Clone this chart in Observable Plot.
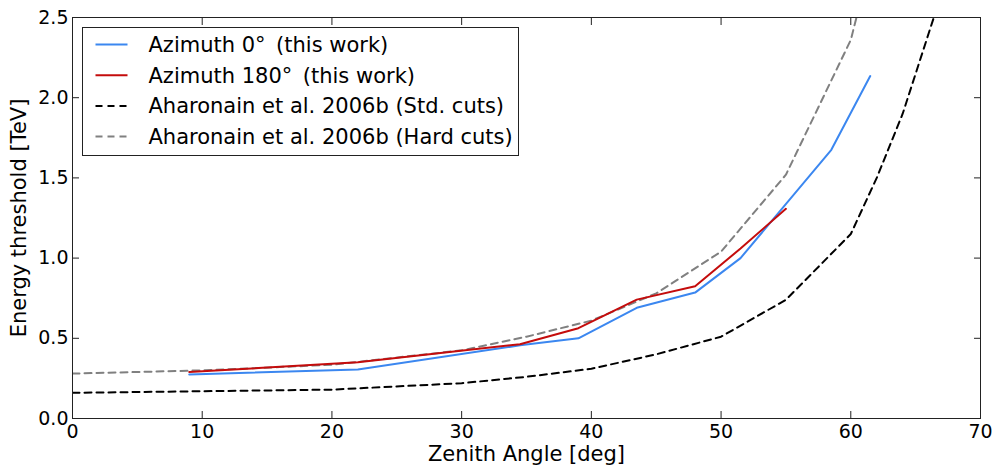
<!DOCTYPE html>
<html>
<head>
<meta charset="utf-8">
<script src="https://cdn.jsdelivr.net/npm/d3@7"></script>
<script src="https://cdn.jsdelivr.net/npm/@observablehq/plot@0.6"></script>
<style>
  html, body { margin: 0; padding: 0; background: #fff; }
  #wrap { position: relative; width: 995px; height: 465px; font-family: "DejaVu Sans", sans-serif; }
  #wrap svg [aria-label="x-axis label"] text,
  #wrap svg [aria-label="y-axis label"] text { font-size: 21px; }
  #legend { position: absolute; left: 82px; top: 27px; width: 437px; height: 129px; box-sizing: border-box;
            border: 1px solid #222; background: #fff; }
</style>
</head>
<body>
<div id="wrap"></div>
<script>
// ---- data ----
const zenithAz0   = [9, 22, 34.5, 39, 43.5, 48, 51.5, 58.5, 61.5];
const thresholdAz0 = [0.275, 0.305, 0.456, 0.50, 0.69, 0.785, 1.0, 1.675, 2.135];

const zenithAz180   = [9, 22, 34.5, 39, 43.5, 48, 51.5, 55];
const thresholdAz180 = [0.29, 0.35, 0.463, 0.563, 0.741, 0.824, 1.06, 1.307];

const zenithStd   = [0, 10, 20, 30, 35, 40, 45, 50, 55, 60, 62, 64, 65, 66, 67];
const thresholdStd = [0.16, 0.17, 0.18, 0.22, 0.26, 0.31, 0.40, 0.51, 0.74, 1.15, 1.50, 1.90, 2.15, 2.40, 2.65];

const zenithHard   = [0, 10, 20, 30, 35, 40, 45, 50, 55, 60, 62];
const thresholdHard = [0.28, 0.30, 0.335, 0.425, 0.51, 0.61, 0.78, 1.04, 1.52, 2.36, 3.0];

const xTicks = [0, 10, 20, 30, 40, 50, 60, 70];
const yTicks = [0.0, 0.5, 1.0, 1.5, 2.0, 2.5];

const seriesNames = [
  "Azimuth 0°\u2002(this work)",
  "Azimuth 180°\u2002(this work)",
  "Aharonain et al. 2006b (Std. cuts)",
  "Aharonain et al. 2006b (Hard cuts)"
];
const seriesColors = ["#3b87f0", "#c40c0c", "#000000", "#808080"];
const seriesDash = [null, null, "7,5", "7,5"];

const toRows = (xs, ys) => xs.map((x, i) => ({x, y: ys[i]}));
const rows = [
  toRows(zenithAz0, thresholdAz0),
  toRows(zenithAz180, thresholdAz180),
  toRows(zenithStd, thresholdStd),
  toRows(zenithHard, thresholdHard)
];

const fmtY = d3.format(".1f");

const chart = Plot.plot({
  width: 995,
  height: 465,
  marginLeft: 72,
  marginRight: 15,
  marginTop: 17,
  marginBottom: 47,
  style: {fontFamily: "DejaVu Sans", fontSize: "19px", color: "#000", background: "#fff"},
  x: {domain: [0, 70]},
  y: {domain: [0, 2.5]},
  marks: [
    Plot.line(rows[3], {x: "x", y: "y", stroke: seriesColors[3], strokeWidth: 2, strokeDasharray: seriesDash[3], clip: true}),
    Plot.line(rows[2], {x: "x", y: "y", stroke: seriesColors[2], strokeWidth: 2, strokeDasharray: seriesDash[2], clip: true}),
    Plot.line(rows[0], {x: "x", y: "y", stroke: seriesColors[0], strokeWidth: 2, clip: true}),
    Plot.line(rows[1], {x: "x", y: "y", stroke: seriesColors[1], strokeWidth: 2, clip: true}),
    Plot.frame({stroke: "#222", strokeWidth: 1}),
    Plot.axisX(xTicks, {anchor: "bottom", tickSize: -7, tickPadding: 13, stroke: "#222",
      label: "Zenith Angle [deg]", labelAnchor: "center", labelArrow: "none", labelOffset: 42}),
    Plot.axisX(xTicks, {anchor: "top", tickSize: -7, tickFormat: () => "", label: null, stroke: "#222"}),
    Plot.axisY(yTicks, {anchor: "left", tickSize: -7, tickPadding: 11, tickFormat: fmtY, stroke: "#222",
      label: "Energy threshold [TeV]", labelAnchor: "center", labelArrow: "none", labelOffset: 61}),
    Plot.axisY(yTicks, {anchor: "right", tickSize: -7, tickFormat: () => "", label: null, stroke: "#222"})
  ]
});

const wrap = document.getElementById("wrap");
wrap.appendChild(chart);

// legend (HTML overlay inside the axes, as in the reference)
const legend = document.createElement("div");
legend.id = "legend";
const ns = "http://www.w3.org/2000/svg";
const lsvg = document.createElementNS(ns, "svg");
lsvg.setAttribute("width", "435");
lsvg.setAttribute("height", "127");
lsvg.style.display = "block";
seriesNames.forEach((name, i) => {
  const cy = 16.5 + i * 30.7;
  const line = document.createElementNS(ns, "line");
  line.setAttribute("x1", 12.5);
  line.setAttribute("x2", 44.5);
  line.setAttribute("y1", cy);
  line.setAttribute("y2", cy);
  line.setAttribute("stroke", seriesColors[i]);
  line.setAttribute("stroke-width", 2);
  if (seriesDash[i]) line.setAttribute("stroke-dasharray", seriesDash[i]);
  lsvg.appendChild(line);
  const t = document.createElementNS(ns, "text");
  t.setAttribute("x", 65.5);
  t.setAttribute("y", cy);
  t.setAttribute("dy", "0.36em");
  t.setAttribute("font-family", "DejaVu Sans");
  t.setAttribute("font-size", "21px");
  t.setAttribute("fill", "#000");
  t.textContent = name;
  lsvg.appendChild(t);
});
legend.appendChild(lsvg);
wrap.appendChild(legend);
</script>
</body>
</html>
